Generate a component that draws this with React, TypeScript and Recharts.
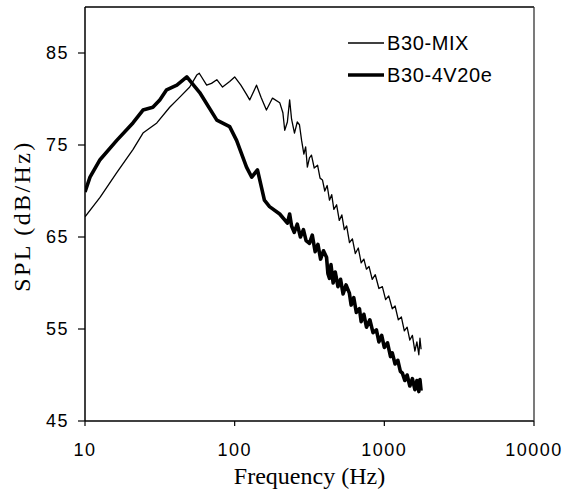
import React from 'react';
import { LineChart, Line, XAxis, YAxis } from 'recharts';

// B30-MIX (thin line)
const mixFreq = [
  10, 12.6, 16.3, 20.9, 24.4, 30.2, 36.8, 43, 50.1, 55.8, 58, 65, 70, 76, 83, 92.6, 100, 110, 120, 126,
  140, 150, 163, 179, 200, 210, 216, 225, 233, 240, 251, 262, 271, 280, 290, 298, 306, 316, 326, 340,
  358, 372, 386, 400, 415, 430, 445, 460, 480, 500, 520, 540, 560, 585, 612, 640, 670, 700, 730, 759,
  790, 830, 870, 920, 970, 1020, 1070, 1130, 1180, 1240, 1300, 1360, 1420, 1480, 1540, 1600, 1650, 1700, 1730, 1760,
];
const mixSpl = [
  67.2, 69.3, 72.0, 74.5, 76.3, 77.4, 79.1, 80.2, 81.3, 82.6, 82.8, 81.5, 81.7, 82.1, 81.3, 81.9, 82.4, 81.5, 80.5, 79.9,
  81.5, 80.2, 78.8, 80.1, 79.6, 78.5, 76.6, 77.5, 79.9, 77.8, 76.3, 77.5, 77.2, 75.5, 74.0, 74.8, 72.6, 73.6, 73.9, 72.5,
  72.8, 71.4, 71.2, 70.0, 70.6, 69.0, 69.6, 68.0, 68.5, 66.8, 67.4, 65.8, 66.2, 64.4, 64.8, 63.2, 63.8, 62.2, 62.6, 61.5,
  61.8, 60.4, 60.9, 59.4, 59.6, 58.2, 58.6, 57.2, 57.5, 56.0, 56.3, 54.8, 55.2, 53.8, 54.3, 52.6, 53.6, 52.2, 54.0, 52.8,
];

// B30-4V20e (thick line)
const v20Freq = [
  10, 10.8, 12.6, 16.3, 20.9, 24.4, 28.4, 31.6, 35.1, 41.1, 47.9, 58.4, 76, 92.6, 103, 120, 130, 142, 158, 171,
  200, 225, 233, 240, 250, 262, 275, 288, 300, 316, 330, 345, 360, 375, 392, 411, 420, 430, 440, 455,
  470, 490, 510, 530, 555, 584, 600, 625, 650, 682, 700, 730, 760, 800, 840, 885, 920, 960, 1000, 1050,
  1100, 1130, 1180, 1230, 1280, 1320, 1370, 1420, 1480, 1540, 1600, 1650, 1700, 1730, 1760,
];
const v20Spl = [
  69.9, 71.5, 73.4, 75.5, 77.4, 78.8, 79.1, 79.9, 81.0, 81.5, 82.4, 80.7, 77.7, 77.0, 75.5, 72.6, 71.5, 72.3, 69.0, 68.3,
  67.5, 66.5, 67.5, 66.2, 65.5, 66.4, 65.0, 65.8, 64.6, 64.3, 65.2, 63.4, 64.2, 62.6, 63.5, 62.8, 61.0, 60.5, 62.0, 60.0,
  61.2, 59.6, 60.4, 58.8, 59.8, 58.9, 57.6, 58.4, 56.8, 57.2, 55.8, 56.6, 55.2, 56.0, 54.6, 54.9, 53.6, 54.3, 53.0, 53.5,
  52.0, 52.4, 51.2, 51.6, 50.4, 50.2, 49.4, 50.0, 48.8, 49.6, 48.4, 49.4, 48.2, 49.5, 48.3,
];

const xTicks = [10, 100, 1000, 10000];
const yTicks = [45, 55, 65, 75, 85];
const xDomain = [10, 10000];
const yDomain = [45, 90];
const seriesNames = ['B30-MIX', 'B30-4V20e'];
const seriesWidths = [1.3, 3.6];

const mixData = mixFreq.map((f, i) => ({ f, spl: mixSpl[i] }));
const v20Data = v20Freq.map((f, i) => ({ f, spl: v20Spl[i] }));

// layout constants
const W = 567;
const H = 500;
const MARGIN = { top: 7, right: 33, left: 0, bottom: 19 };
const Y_AXIS_W = 85;
const X_AXIS_H = 60;
const PLOT = {
  left: MARGIN.left + Y_AXIS_W,
  top: MARGIN.top,
  width: W - MARGIN.left - Y_AXIS_W - MARGIN.right,
  height: H - MARGIN.top - MARGIN.bottom - X_AXIS_H,
};

const tickStyle = {
  fontFamily: '"Liberation Sans", Arial, sans-serif',
  fontSize: 18,
  letterSpacing: 1.5,
  fill: '#000',
};

const LegendBox = () => (
  <div
    style={{
      position: 'absolute',
      left: 348,
      top: 27,
      zIndex: 6,
      fontFamily: '"Liberation Sans", Arial, sans-serif',
      fontSize: 20,
      color: '#000',
      letterSpacing: 0.6,
    }}
  >
    {seriesNames.map((name, i) => (
      <div key={name} style={{ display: 'flex', alignItems: 'center', height: 32 }}>
        <svg width={36} height={8} style={{ display: 'block' }}>
          <line x1={0} y1={4} x2={36} y2={4} stroke="#000" strokeWidth={seriesWidths[i]} />
        </svg>
        <span style={{ marginLeft: 3, lineHeight: '32px' }}>{name}</span>
      </div>
    ))}
  </div>
);

// top and right edges of the plot frame, drawn as an overlay
const Frame = () => (
  <svg
    width={W}
    height={H}
    style={{ position: 'absolute', left: 0, top: 0, zIndex: 5, pointerEvents: 'none', overflow: 'visible' }}
  >
    <line
      x1={PLOT.left}
      y1={PLOT.top}
      x2={PLOT.left + PLOT.width}
      y2={PLOT.top}
      stroke="#000"
      strokeWidth={1.5}
    />
    <line
      x1={PLOT.left + PLOT.width}
      y1={PLOT.top}
      x2={PLOT.left + PLOT.width}
      y2={PLOT.top + PLOT.height}
      stroke="#333"
      strokeWidth={1.3}
    />
  </svg>
);

const YLabel = (props: any) => {
  const vb = props.viewBox || {};
  const cx = vb.x + 22;
  const cy = vb.y + vb.height / 2 + 2;
  return (
    <text
      x={cx}
      y={cy}
      transform={`rotate(-90 ${cx} ${cy})`}
      textAnchor="middle"
      dominantBaseline="central"
      style={{ fontFamily: '"Liberation Serif", "Times New Roman", serif', fontSize: 24, letterSpacing: 2.4 }}
      fill="#000"
    >
      SPL (dB/Hz)
    </text>
  );
};

const XLabel = (props: any) => {
  const vb = props.viewBox || {};
  const cx = vb.x + vb.width / 2;
  return (
    <text
      x={cx}
      y={vb.y + 63}
      textAnchor="middle"
      style={{ fontFamily: '"Liberation Serif", "Times New Roman", serif', fontSize: 24 }}
      fill="#000"
    >
      Frequency (Hz)
    </text>
  );
};

export default function App() {
  return (
    <div style={{ position: 'absolute', left: 0, top: 0, width: W, height: H, background: '#fff' }}>
      <LineChart width={W} height={H} margin={MARGIN}>
        <XAxis
          type="number"
          dataKey="f"
          scale="log"
          domain={xDomain}
          ticks={xTicks}
          allowDataOverflow
          height={X_AXIS_H}
          tickSize={5}
          tickMargin={17}
          tick={tickStyle}
          axisLine={{ stroke: '#000', strokeWidth: 1.5 }}
          tickLine={{ stroke: '#000', strokeWidth: 1.2 }}
          label={<XLabel />}
        />
        <YAxis
          type="number"
          dataKey="spl"
          domain={yDomain}
          ticks={yTicks}
          allowDataOverflow
          width={Y_AXIS_W}
          tickSize={7}
          tickMargin={9}
          tick={tickStyle}
          axisLine={{ stroke: '#000', strokeWidth: 1.5 }}
          tickLine={{ stroke: '#000', strokeWidth: 1.2 }}
          label={<YLabel />}
        />
        <Line
          data={mixData}
          dataKey="spl"
          name={seriesNames[0]}
          type="linear"
          stroke="#000"
          strokeWidth={seriesWidths[0]}
          dot={false}
          strokeLinejoin="round"
          isAnimationActive={false}
        />
        <Line
          data={v20Data}
          dataKey="spl"
          name={seriesNames[1]}
          type="linear"
          stroke="#000"
          strokeWidth={seriesWidths[1]}
          dot={false}
          strokeLinejoin="round"
          isAnimationActive={false}
        />
      </LineChart>
      <Frame />
      <LegendBox />
    </div>
  );
}
